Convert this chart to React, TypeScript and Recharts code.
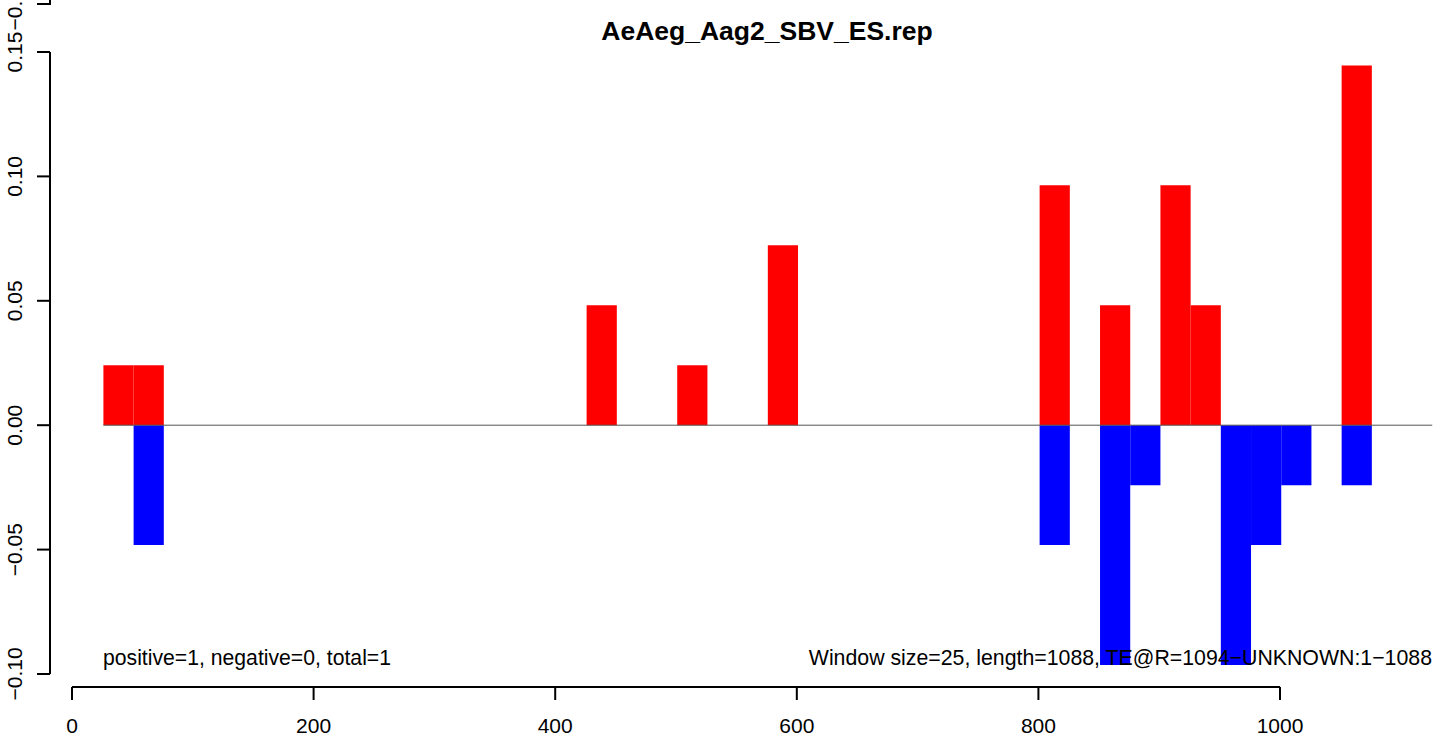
import React from "react";
import {
  ComposedChart,
  XAxis,
  YAxis,
  ReferenceArea,
  ReferenceLine,
} from "recharts";

// ---- data ----
const WINDOW = 25;
const posStarts = [26, 51, 426, 501, 576, 801, 851, 901, 926, 1051];
const posValues = [0.0241, 0.0241, 0.0482, 0.0241, 0.0723, 0.0964, 0.0482, 0.0964, 0.0482, 0.1446];
const negStarts = [51, 801, 851, 876, 951, 976, 1001, 1051];
const negValues = [-0.0482, -0.0482, -0.0964, -0.0241, -0.0964, -0.0482, -0.0241, -0.0241];
const xTicks = [0, 200, 400, 600, 800, 1000];
const yTicks = [-0.1, -0.05, 0, 0.05, 0.1, 0.15];
const title = "AeAeg_Aag2_SBV_ES.rep";
const leftNote = "positive=1, negative=0, total=1";
const rightNote = "Window size=25, length=1088, TE@R=1094\u2212UNKNOWN:1\u22121088";
const zeroLineRange = [26, 1126];

const X_DOMAIN: [number, number] = [-18.21, 1131.6];
const Y_DOMAIN: [number, number] = [-0.10523, 0.15422];

const FONT = "'Liberation Sans', Arial, Helvetica, sans-serif";

const chartData = posStarts.map((s, i) => ({ x: s, v: posValues[i] }));

const fmtY = (v: number) => {
  const s = Math.abs(v).toFixed(2);
  return v < 0 ? "\u2212" + s : s;
};

const YTick = (props: any) => {
  const { y, payload } = props;
  return (
    <text
      x={22}
      y={y}
      transform={`rotate(-90 22 ${y})`}
      textAnchor="middle"
      fontSize={21}
      fontFamily={FONT}
      fill="#000"
    >
      {fmtY(payload.value)}
    </text>
  );
};

const XTick = (props: any) => {
  const { x, payload } = props;
  return (
    <text x={x} y={733} textAnchor="middle" fontSize={21} fontFamily={FONT} fill="#000">
      {String(payload.value)}
    </text>
  );
};

const Overlay = () => (
  <svg
    width={1439}
    height={738}
    style={{ position: "absolute", left: 0, top: 0, pointerEvents: "none", overflow: "hidden" }}
  >
    <text x={767} y={40} textAnchor="middle" fontSize={26.5} fontWeight="bold" fontFamily={FONT} fill="#000">
      {title}
    </text>
    <text x={103} y={665} textAnchor="start" fontSize={21.2} fontFamily={FONT} fill="#000">
      {leftNote}
    </text>
    <text x={1432} y={665} textAnchor="end" fontSize={21.3} fontFamily={FONT} fill="#000">
      {rightNote}
    </text>
    {/* fragment of the panel above */}
    <path d="M37 4 L50 4 L50 -2" stroke="#000" strokeWidth={2} fill="none" />
    <text x={22} y={4} transform="rotate(-90 22 4)" textAnchor="middle" fontSize={21} fontFamily={FONT} fill="#000">
      {"\u22120.10"}
    </text>
  </svg>
);

export default function App() {
  return (
    <div style={{ position: "absolute", left: 0, top: 0, width: 1439, height: 738, background: "#fff" }}>
      <ComposedChart
        width={1439}
        height={738}
        data={chartData}
        margin={{ top: 41.5, right: 0, bottom: 0, left: 0 }}
      >
        <XAxis
          type="number"
          dataKey="x"
          domain={X_DOMAIN}
          allowDataOverflow
          ticks={xTicks}
          interval={0}
          axisLine={false}
          tickLine={{ stroke: "#000", strokeWidth: 2 }}
          tickSize={13}
          height={51}
          tick={<XTick />}
        />
        <YAxis
          type="number"
          domain={Y_DOMAIN}
          allowDataOverflow
          ticks={yTicks}
          interval={0}
          axisLine={false}
          tickLine={{ stroke: "#000", strokeWidth: 2 }}
          tickSize={13}
          width={50}
          tick={<YTick />}
        />
        <ReferenceLine
          segment={[
            { x: zeroLineRange[0], y: 0 },
            { x: zeroLineRange[1], y: 0 },
          ]}
          stroke="#555"
          strokeWidth={1}
          ifOverflow="visible"
        />
        {posStarts.map((s, i) => (
          <ReferenceArea
            key={"p" + i}
            x1={s}
            x2={s + WINDOW}
            y1={0}
            y2={posValues[i]}
            fill="#FF0000"
            fillOpacity={1}
            stroke="none"
            ifOverflow="visible"
          />
        ))}
        {negStarts.map((s, i) => (
          <ReferenceArea
            key={"n" + i}
            x1={s}
            x2={s + WINDOW}
            y1={negValues[i]}
            y2={0}
            fill="#0000FF"
            fillOpacity={1}
            stroke="none"
            ifOverflow="visible"
          />
        ))}
        <ReferenceLine
          segment={[
            { x: X_DOMAIN[0], y: yTicks[0] },
            { x: X_DOMAIN[0], y: yTicks[yTicks.length - 1] },
          ]}
          stroke="#000"
          strokeWidth={2}
          ifOverflow="visible"
        />
        <ReferenceLine
          segment={[
            { x: xTicks[0], y: Y_DOMAIN[0] },
            { x: xTicks[xTicks.length - 1], y: Y_DOMAIN[0] },
          ]}
          stroke="#000"
          strokeWidth={2}
          ifOverflow="visible"
        />
      </ComposedChart>
      <Overlay />
    </div>
  );
}
